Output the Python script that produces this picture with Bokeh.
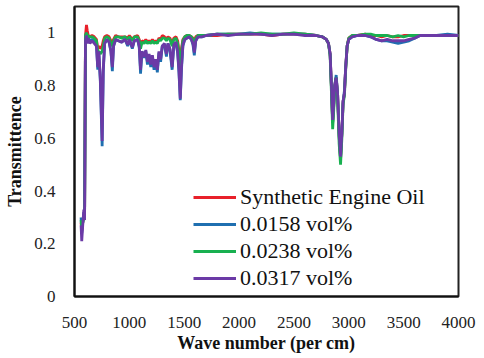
from bokeh.plotting import figure
from bokeh.models import Range1d, Legend, LegendItem, FixedTicker
from bokeh.embed import file_html
from bokeh.resources import INLINE

wavenumber = [560, 566, 575, 585, 592, 600, 609, 616, 625, 640, 660, 680, 700, 712, 722, 735, 752, 762, 775, 795,
              815, 832, 845, 856, 875, 900, 930, 960, 985, 1000, 1027, 1045, 1075, 1090, 1102, 1115, 1135, 1150, 1165, 1180,
              1195, 1210, 1225, 1240, 1255, 1270, 1285, 1300, 1320, 1338, 1352, 1370, 1390, 1405, 1425, 1440, 1452, 1464, 1475, 1488,
              1505, 1525, 1545, 1565, 1580, 1592, 1605, 1625, 1660, 1700, 1800, 1900, 2000, 2100, 2200, 2300, 2400, 2500, 2600, 2700,
              2760, 2795, 2815, 2830, 2842, 2853, 2862, 2872, 2885, 2898, 2912, 2925, 2937, 2948, 2960, 2972, 2985, 3000, 3030, 3080,
              3150, 3200, 3250, 3300, 3350, 3400, 3450, 3500, 3550, 3600, 3650, 3700, 3800, 3900, 4000]

synthetic_oil = [0.28, 0.25, 0.28, 0.31, 0.30, 0.99, 1.03, 1.01, 0.99, 0.985, 0.99, 0.985, 0.975, 0.94, 0.95, 0.94, 0.95, 0.97, 0.985, 0.99,
                 0.985, 0.97, 0.96, 0.975, 0.99, 0.985, 0.985, 0.985, 0.98, 0.99, 0.975, 0.985, 0.99, 0.975, 0.95, 0.97, 0.965, 0.975, 0.965, 0.97,
                 0.965, 0.975, 0.965, 0.97, 0.965, 0.98, 0.975, 0.99, 0.985, 0.975, 0.985, 0.98, 0.96, 0.98, 0.985, 0.97, 0.93, 0.87, 0.94, 0.975,
                 0.985, 0.99, 0.99, 0.985, 0.98, 0.965, 0.985, 0.99, 0.99, 0.99, 0.99, 0.995, 0.995, 0.995, 0.995, 0.99, 0.995, 0.995, 0.995, 0.99,
                 0.985, 0.975, 0.96, 0.92, 0.79, 0.66, 0.72, 0.80, 0.83, 0.77, 0.61, 0.52, 0.62, 0.74, 0.77, 0.87, 0.95, 0.98, 0.99, 0.99,
                 0.995, 0.99, 0.99, 0.985, 0.99, 0.985, 0.985, 0.99, 0.99, 0.99, 0.99, 0.99, 0.99, 0.99, 0.99]

vol_0158 = [0.30, 0.24, 0.28, 0.32, 0.30, 0.98, 1.00, 0.98, 0.98, 0.97, 0.975, 0.97, 0.955, 0.86, 0.92, 0.82, 0.57, 0.85, 0.96, 0.975,
            0.965, 0.93, 0.855, 0.95, 0.975, 0.97, 0.965, 0.975, 0.95, 0.975, 0.94, 0.97, 0.975, 0.945, 0.845, 0.93, 0.905, 0.93, 0.88, 0.915,
            0.87, 0.91, 0.86, 0.895, 0.85, 0.925, 0.89, 0.95, 0.955, 0.91, 0.96, 0.935, 0.86, 0.95, 0.96, 0.925, 0.85, 0.745, 0.86, 0.95,
            0.975, 0.98, 0.985, 0.975, 0.955, 0.915, 0.97, 0.985, 0.985, 0.99, 0.995, 0.995, 0.995, 1.0, 0.995, 0.995, 0.995, 0.995, 0.995, 0.99,
            0.985, 0.975, 0.96, 0.92, 0.79, 0.66, 0.72, 0.80, 0.84, 0.77, 0.61, 0.52, 0.62, 0.74, 0.78, 0.87, 0.95, 0.975, 0.985, 0.99,
            0.99, 0.985, 0.975, 0.97, 0.97, 0.965, 0.96, 0.965, 0.97, 0.98, 0.99, 0.99, 0.99, 0.995, 0.99]

vol_0238 = [0.29, 0.26, 0.28, 0.30, 0.29, 0.99, 1.00, 0.99, 0.99, 0.985, 0.985, 0.98, 0.97, 0.93, 0.93, 0.92, 0.93, 0.95, 0.98, 0.985,
            0.98, 0.96, 0.95, 0.97, 0.985, 0.985, 0.98, 0.985, 0.975, 0.985, 0.97, 0.985, 0.985, 0.97, 0.94, 0.965, 0.96, 0.97, 0.96, 0.965,
            0.96, 0.97, 0.96, 0.965, 0.96, 0.975, 0.97, 0.98, 0.98, 0.97, 0.98, 0.975, 0.95, 0.975, 0.98, 0.96, 0.92, 0.85, 0.93, 0.97,
            0.985, 0.99, 0.99, 0.985, 0.975, 0.96, 0.98, 0.99, 0.99, 0.99, 0.995, 0.995, 0.995, 0.995, 1.0, 0.995, 0.995, 1.0, 0.995, 0.99,
            0.985, 0.975, 0.96, 0.91, 0.77, 0.635, 0.70, 0.79, 0.83, 0.75, 0.58, 0.50, 0.60, 0.73, 0.76, 0.86, 0.95, 0.98, 0.99, 0.99,
            0.995, 0.995, 0.99, 0.99, 0.99, 0.985, 0.99, 0.985, 0.99, 0.99, 0.99, 0.99, 0.99, 0.99, 0.99]

vol_0317 = [0.27, 0.21, 0.27, 0.33, 0.29, 0.97, 0.99, 0.96, 0.98, 0.96, 0.97, 0.96, 0.95, 0.87, 0.93, 0.83, 0.59, 0.86, 0.96, 0.975,
            0.965, 0.93, 0.87, 0.95, 0.975, 0.97, 0.965, 0.975, 0.955, 0.975, 0.945, 0.97, 0.975, 0.95, 0.86, 0.93, 0.91, 0.935, 0.89, 0.92,
            0.88, 0.915, 0.87, 0.90, 0.86, 0.93, 0.90, 0.95, 0.96, 0.92, 0.96, 0.94, 0.87, 0.955, 0.965, 0.93, 0.86, 0.75, 0.87, 0.955,
            0.975, 0.98, 0.985, 0.975, 0.96, 0.925, 0.97, 0.985, 0.985, 0.99, 0.995, 0.99, 0.995, 0.995, 0.995, 0.99, 0.995, 0.995, 0.99, 0.99,
            0.985, 0.975, 0.96, 0.92, 0.80, 0.67, 0.73, 0.80, 0.83, 0.77, 0.62, 0.53, 0.62, 0.74, 0.77, 0.87, 0.95, 0.975, 0.985, 0.99,
            0.99, 0.985, 0.975, 0.97, 0.975, 0.97, 0.97, 0.97, 0.975, 0.98, 0.99, 0.99, 0.99, 0.99, 0.99]

series_names = ["Synthetic Engine Oil", "0.0158 vol%", "0.0238 vol%", "0.0317 vol%"]
series_values = [synthetic_oil, vol_0158, vol_0238, vol_0317]
series_colors = ["#E8202A", "#1F6FB0", "#18B050", "#6B3AA6"]

x_ticks = [500, 1000, 1500, 2000, 2500, 3000, 3500, 4000]
y_ticks = [0, 0.2, 0.4, 0.6, 0.8, 1]

FONT = "'Liberation Serif', 'Times New Roman', serif"

p = figure(output_backend="svg", toolbar_location=None,
           frame_width=384, frame_height=290,
           min_border_left=74, min_border_right=26, min_border_top=6, min_border_bottom=62,
           x_range=Range1d(500, 4000), y_range=Range1d(0, 1.1))

items = []
for name, vals, col in zip(series_names, series_values, series_colors):
    r = p.line(wavenumber, vals, line_color=col, line_width=2.8)
    items.append(LegendItem(label=name, renderers=[r]))

p.grid.visible = False
p.outline_line_color = "#222222"
p.outline_line_width = 2
p.background_fill_color = "white"
p.border_fill_color = "white"

for ax in (p.xaxis[0], p.yaxis[0]):
    ax.axis_line_color = "#111111"
    ax.axis_line_width = 2
    ax.major_tick_line_color = None
    ax.minor_tick_line_color = None
    ax.major_label_text_font = FONT
    ax.major_label_text_font_size = "17px"
    ax.major_label_text_color = "#222222"
    ax.axis_label_text_font = FONT
    ax.axis_label_text_font_style = "bold"
    ax.axis_label_text_font_size = "18px"
    ax.axis_label_text_color = "#111111"

p.xaxis.ticker = FixedTicker(ticks=x_ticks)
p.yaxis.ticker = FixedTicker(ticks=y_ticks)
p.xaxis.major_label_overrides = {t: str(t) for t in x_ticks}
p.yaxis.major_label_overrides = {0: "0", 0.2: "0.2", 0.4: "0.4", 0.6: "0.6", 0.8: "0.8", 1: "1"}
p.xaxis.axis_label = "Wave number (per cm)"
p.yaxis.axis_label = "Transmittence"
p.xaxis.major_label_standoff = 14
p.yaxis.major_label_standoff = 13
p.xaxis.axis_label_standoff = 2
p.yaxis.axis_label_standoff = 6

legend = Legend(items=items, location=(119, 5), orientation="vertical",
                label_text_font=FONT, label_text_font_size="22px", label_text_color="#111111",
                glyph_width=43, glyph_height=26, label_height=26, label_standoff=4,
                spacing=1, padding=0, margin=0,
                border_line_color=None, background_fill_alpha=0)
p.add_layout(legend, "center")

open("out.html", "w").write(file_html(p, INLINE))
